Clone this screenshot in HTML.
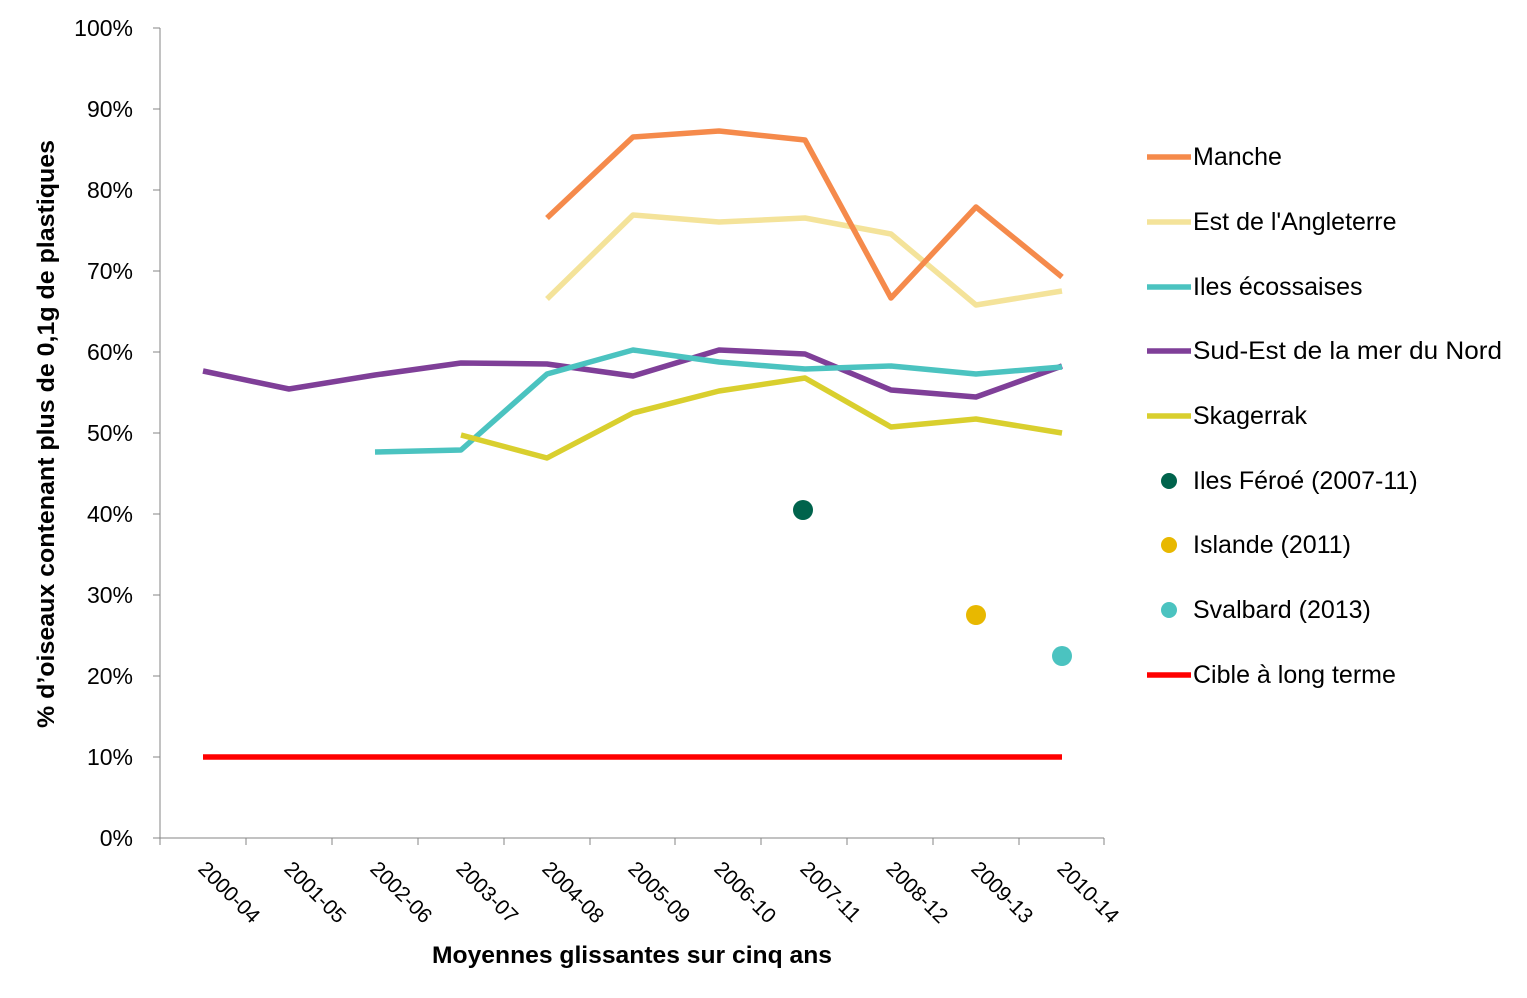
<!DOCTYPE html>
<html><head><meta charset="utf-8"><style>body{margin:0;background:#fff}svg{display:block}text{font-family:"Liberation Sans",sans-serif}</style></head><body>
<svg width="1527" height="998" viewBox="0 0 1527 998" xmlns="http://www.w3.org/2000/svg">
<g stroke="#868686" stroke-width="1" fill="none">
<line x1="160" y1="28" x2="160" y2="838"/>
<line x1="160" y1="838" x2="1104" y2="838"/>
<line x1="153" y1="28" x2="160" y2="28"/><line x1="153" y1="109" x2="160" y2="109"/><line x1="153" y1="190" x2="160" y2="190"/><line x1="153" y1="271" x2="160" y2="271"/><line x1="153" y1="352" x2="160" y2="352"/><line x1="153" y1="433" x2="160" y2="433"/><line x1="153" y1="514" x2="160" y2="514"/><line x1="153" y1="595" x2="160" y2="595"/><line x1="153" y1="676" x2="160" y2="676"/><line x1="153" y1="757" x2="160" y2="757"/><line x1="153" y1="838" x2="160" y2="838"/>
<line x1="160" y1="838" x2="160" y2="845"/><line x1="246" y1="838" x2="246" y2="845"/><line x1="332" y1="838" x2="332" y2="845"/><line x1="418" y1="838" x2="418" y2="845"/><line x1="504" y1="838" x2="504" y2="845"/><line x1="590" y1="838" x2="590" y2="845"/><line x1="675" y1="838" x2="675" y2="845"/><line x1="761" y1="838" x2="761" y2="845"/><line x1="847" y1="838" x2="847" y2="845"/><line x1="933" y1="838" x2="933" y2="845"/><line x1="1019" y1="838" x2="1019" y2="845"/><line x1="1104" y1="838" x2="1104" y2="845"/>
</g>
<g font-size="23" fill="#000" text-anchor="end">
<text x="133" y="36">100%</text><text x="133" y="117">90%</text><text x="133" y="198">80%</text><text x="133" y="279">70%</text><text x="133" y="360">60%</text><text x="133" y="441">50%</text><text x="133" y="522">40%</text><text x="133" y="603">30%</text><text x="133" y="684">20%</text><text x="133" y="765">10%</text><text x="133" y="846">0%</text>
</g>
<g font-size="21" fill="#000">
<text transform="translate(197,870) rotate(45)">2000-04</text>
<text transform="translate(283,870) rotate(45)">2001-05</text>
<text transform="translate(369,870) rotate(45)">2002-06</text>
<text transform="translate(455,870) rotate(45)">2003-07</text>
<text transform="translate(541,870) rotate(45)">2004-08</text>
<text transform="translate(627,870) rotate(45)">2005-09</text>
<text transform="translate(713,870) rotate(45)">2006-10</text>
<text transform="translate(799,870) rotate(45)">2007-11</text>
<text transform="translate(885,870) rotate(45)">2008-12</text>
<text transform="translate(970,870) rotate(45)">2009-13</text>
<text transform="translate(1056,870) rotate(45)">2010-14</text>
</g>
<text x="632" y="963" font-size="24" font-weight="bold" text-anchor="middle" textLength="400" lengthAdjust="spacingAndGlyphs">Moyennes glissantes sur cinq ans</text>
<text transform="translate(54,434) rotate(-90)" font-size="24" font-weight="bold" text-anchor="middle" textLength="588" lengthAdjust="spacingAndGlyphs">% d’oiseaux contenant plus de 0,1g de plastiques</text>
<g fill="none" stroke-width="5.5" stroke-linejoin="round">
<line x1="203" y1="757" x2="1062" y2="757" stroke="#ff0000"/>
<polyline stroke="#7f3f98" points="203,371 289,389 375,375 461,363 547,364 633,376 719,350 805,354 891,390 976,397 1062,366"/>
<polyline stroke="#4bc3c0" points="375,452 461,450 547,374 633,350 719,362 805,369 891,366 976,374 1062,367"/>
<polyline stroke="#d9cf2e" points="461,435 547,458 633,413 719,391 805,378 891,427 976,419 1062,433"/>
<polyline stroke="#f4e39a" points="547,299 633,215 719,222 805,218 891,234 976,305 1062,291"/>
<polyline stroke="#f58a4b" points="547,218 633,137 719,131 805,140 891,298 976,207 1062,277"/>
</g>
<circle cx="803" cy="510" r="10" fill="#00634c"/>
<circle cx="976" cy="615" r="10" fill="#e8b800"/>
<circle cx="1062" cy="656" r="10" fill="#4bc3c0"/>
<g stroke-width="5.5">
<line x1="1147" y1="157" x2="1191" y2="157" stroke="#f58a4b"/>
<line x1="1147" y1="222" x2="1191" y2="222" stroke="#f4e39a"/>
<line x1="1147" y1="287" x2="1191" y2="287" stroke="#4bc3c0"/>
<line x1="1147" y1="351" x2="1191" y2="351" stroke="#7f3f98"/>
<line x1="1147" y1="416" x2="1191" y2="416" stroke="#d9cf2e"/>
<line x1="1147" y1="675" x2="1191" y2="675" stroke="#ff0000"/>
</g>
<circle cx="1169" cy="481" r="8" fill="#00634c"/>
<circle cx="1169" cy="545" r="8" fill="#e8b800"/>
<circle cx="1169" cy="610" r="8" fill="#4bc3c0"/>
<g font-size="25" fill="#000">
<text x="1193" y="165">Manche</text>
<text x="1193" y="230">Est de l'Angleterre</text>
<text x="1193" y="295">Iles écossaises</text>
<text x="1193" y="359" textLength="309" lengthAdjust="spacingAndGlyphs">Sud-Est de la mer du Nord</text>
<text x="1193" y="424">Skagerrak</text>
<text x="1193" y="489">Iles Féroé (2007-11)</text>
<text x="1193" y="553">Islande (2011)</text>
<text x="1193" y="618">Svalbard (2013)</text>
<text x="1193" y="683">Cible à long terme</text>
</g>
</svg>
</body></html>
